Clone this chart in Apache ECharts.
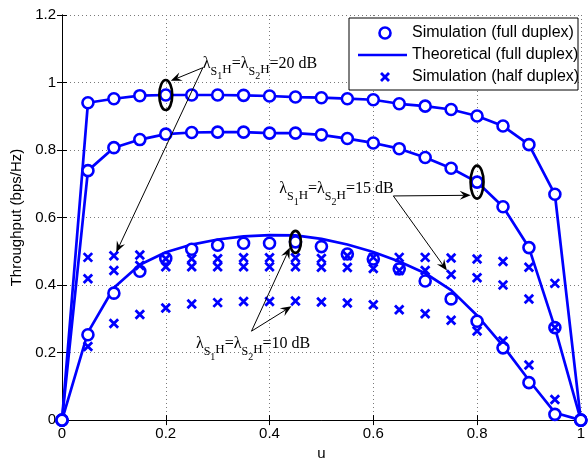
<!DOCTYPE html>
<html>
<head>
<meta charset="utf-8">
<script src="https://cdn.jsdelivr.net/npm/echarts@6.0.0/dist/echarts.min.js"></script>
<style>
  html, body { margin: 0; padding: 0; background: #fff; }
  #chart { width: 588px; height: 466px; }
</style>
</head>
<body>
<div id="chart"></div>
<script>
// power splitting factor u, sampled every 0.05
const mu = [0, 0.05, 0.1, 0.15, 0.2, 0.25, 0.3, 0.35, 0.4, 0.45, 0.5, 0.55, 0.6, 0.65, 0.7, 0.75, 0.8, 0.85, 0.9, 0.95, 1]
const muHalf = [0.05, 0.1, 0.15, 0.2, 0.25, 0.3, 0.35, 0.4, 0.45, 0.5, 0.55, 0.6, 0.65, 0.7, 0.75, 0.8, 0.85, 0.9, 0.95]

// full duplex, simulation (circles)
const simFull20 = [0, 0.940, 0.952, 0.961, 0.963, 0.963, 0.963, 0.962, 0.960, 0.957, 0.955, 0.952, 0.949, 0.937, 0.930, 0.920, 0.901, 0.871, 0.816, 0.669, 0]
const simFull15 = [0, 0.739, 0.807, 0.831, 0.847, 0.852, 0.853, 0.853, 0.850, 0.850, 0.845, 0.834, 0.821, 0.804, 0.778, 0.746, 0.705, 0.632, 0.511, 0.274, 0]
const simFull10 = [0, 0.253, 0.376, 0.441, 0.479, 0.506, 0.518, 0.524, 0.524, 0.528, 0.514, 0.492, 0.477, 0.448, 0.412, 0.359, 0.293, 0.214, 0.111, 0.017, 0]

// full duplex, theory (lines)
const theoryFull20 = [0, 0.940, 0.952, 0.961, 0.963, 0.963, 0.963, 0.962, 0.960, 0.957, 0.955, 0.952, 0.949, 0.937, 0.930, 0.920, 0.901, 0.871, 0.816, 0.669, 0]
const theoryFull15 = [0, 0.739, 0.807, 0.831, 0.847, 0.852, 0.853, 0.853, 0.850, 0.850, 0.845, 0.834, 0.821, 0.804, 0.778, 0.746, 0.705, 0.632, 0.511, 0.274, 0]
const theoryFull10 = [0, 0.260, 0.392, 0.460, 0.497, 0.520, 0.535, 0.544, 0.548, 0.547, 0.537, 0.520, 0.498, 0.470, 0.435, 0.385, 0.310, 0.220, 0.118, 0.022, 0]

// half duplex, simulation (crosses)
const simHalf20 = [0.482, 0.487, 0.489, 0.478, 0.478, 0.478, 0.481, 0.481, 0.481, 0.479, 0.487, 0.482, 0.482, 0.482, 0.480, 0.477, 0.470, 0.453, 0.405]
const simHalf15 = [0.419, 0.443, 0.458, 0.454, 0.454, 0.454, 0.454, 0.454, 0.454, 0.453, 0.452, 0.449, 0.443, 0.443, 0.431, 0.422, 0.400, 0.359, 0.274]
const simHalf10 = [0.218, 0.286, 0.313, 0.332, 0.344, 0.348, 0.351, 0.351, 0.353, 0.350, 0.347, 0.342, 0.327, 0.315, 0.296, 0.264, 0.234, 0.163, 0.061]

const legendLabels = ["Simulation (full duplex)", "Theoretical (full duplex)", "Simulation (half duplex)"]

// annotations, in data coordinates: label anchor, arrow tail, arrow tips, marked point
const annotations = [
  { snr: "20", label: [0.2715, 1.056], tail: [0.2715, 1.044], tips: [[0.2097, 1.005], [0.1046, 0.497]], mark: [0.2, 0.963] },
  { snr: "15", label: [0.4187, 0.684], tail: [0.6386, 0.664], tips: [[0.7878, 0.666], [0.7419, 0.443]], mark: [0.8, 0.705] },
  { snr: "10", label: [0.2581, 0.2255], tail: [0.3652, 0.2634], tips: [[0.4392, 0.511], [0.4423, 0.337]], mark: [0.45, 0.528] },
]

const blue = "#0000ff"
const sans = '"Liberation Sans", Arial, sans-serif'
const serif = '"Liberation Serif", "Times New Roman", serif'
const cross = "path://M0,0L10,10M10,0L0,10"

const pairs = (xs, ys) => ys.map((y, i) => [xs[i], y])

const theoryLine = (data) => ({
  type: "line",
  data: pairs(mu, data),
  symbol: "none",
  clip: false,
  silent: true,
  z: 2,
  lineStyle: { color: blue, width: 2.7 },
})
const circles = (data) => ({
  type: "scatter",
  data: pairs(mu, data),
  symbol: "circle",
  symbolSize: 11,
  clip: false,
  silent: true,
  z: 3,
  itemStyle: { color: "#fff", borderColor: blue, borderWidth: 2.6, opacity: 1 },
})
const crosses = (data) => ({
  type: "scatter",
  data: pairs(muHalf, data),
  symbol: cross,
  symbolSize: 8.5,
  clip: false,
  silent: true,
  z: 4,
  itemStyle: { color: blue, borderColor: blue, borderWidth: 2.8, opacity: 1 },
})

const chart = echarts.init(document.getElementById("chart"))

const tickLabel = { color: "#000", fontFamily: sans, fontSize: 15 }
const grid = { lineStyle: { color: "#7a7a7a", type: [1, 3], width: 1 } }
const black = { lineStyle: { color: "#000", width: 1 } }

chart.setOption({
  animation: false,
  grid: { left: 62, right: 3, top: 15, bottom: 38 },
  xAxis: [
    {
      type: "value", min: 0, max: 1, interval: 0.2,
      name: "u", nameLocation: "middle", nameGap: 15,
      nameTextStyle: { color: "#000", fontFamily: sans, fontSize: 15 },
      axisLine: black,
      axisTick: { inside: true, length: 5, lineStyle: { color: "#000" } },
      axisLabel: { ...tickLabel, margin: 6 },
      splitLine: { show: true, ...grid },
    },
    {
      type: "value", min: 0, max: 1, interval: 0.2, position: "top",
      axisLine: black,
      axisTick: { inside: true, length: 5, lineStyle: { color: "#000" } },
      axisLabel: { show: false },
      splitLine: { show: false },
    },
  ],
  yAxis: [
    {
      type: "value", min: 0, max: 1.2, interval: 0.2,
      name: "Throughput (bps/Hz)", nameLocation: "middle", nameGap: 32,
      nameTextStyle: { color: "#000", fontFamily: sans, fontSize: 15 },
      axisLine: { show: true, ...black },
      axisTick: { show: true, inside: true, length: 5, lineStyle: { color: "#000" } },
      axisLabel: { ...tickLabel, margin: 6 },
      splitLine: { show: true, ...grid },
    },
    {
      type: "value", min: 0, max: 1.2, interval: 0.2, position: "right",
      axisLine: { show: true, ...black },
      axisTick: { show: true, inside: true, length: 5, lineStyle: { color: "#000" } },
      axisLabel: { show: false },
      splitLine: { show: false },
    },
  ],
  series: [
    theoryLine(theoryFull20),
    theoryLine(theoryFull15),
    theoryLine(theoryFull10),
    circles(simFull20),
    circles(simFull15),
    circles(simFull10),
    crosses(simHalf20),
    crosses(simHalf15),
    crosses(simHalf10),
  ],
})

// ---- annotations and legend drawn on top
const toPx = (p) => chart.convertToPixel({ gridIndex: 0 }, p)
const ctx = document.createElement("canvas").getContext("2d")

function arrow(from, to) {
  const [x1, y1] = toPx(from)
  const [x2, y2] = toPx(to)
  const a = Math.atan2(y2 - y1, x2 - x1)
  const ux = Math.cos(a), uy = Math.sin(a)
  const bx = x2 - ux * 11, by = y2 - uy * 11
  const nx = x2 - ux * 7, ny = y2 - uy * 7
  return [
    { type: "line", shape: { x1, y1, x2: nx, y2: ny }, style: { stroke: "#000", lineWidth: 1 } },
    {
      type: "polygon",
      shape: { points: [[x2, y2], [bx - uy * 4.5, by + ux * 4.5], [nx, ny], [bx + uy * 4.5, by - ux * 4.5]] },
      style: { fill: "#000" },
    },
  ]
}

function snrLabel(anchor, snr) {
  const pieces = [
    ["λ", 16, 0], ["S", 12, 8], ["1", 10, 13], ["H", 13, 6], ["=", 16, 0],
    ["λ", 16, 0], ["S", 12, 8], ["2", 10, 13], ["H", 13, 6], ["=" + snr + " dB", 16, 0],
  ]
  const [x0, y0] = toPx(anchor)
  let x = x0
  return pieces.map(([text, size, dy]) => {
    const font = `${size}px ${serif}`
    ctx.font = font
    const el = { type: "text", x, y: y0 + dy, style: { text, font, fill: "#000", align: "left", verticalAlign: "middle" } }
    x += ctx.measureText(text).width
    return el
  })
}

const ellipseSize = [[6.5, 15], [6.5, 16.5], [5.5, 11]]

const elements = []
annotations.forEach((a, i) => {
  const [cx, cy] = toPx(a.mark)
  elements.push({
    type: "ellipse",
    shape: { cx, cy, rx: ellipseSize[i][0], ry: ellipseSize[i][1] },
    style: { fill: null, stroke: "#000", lineWidth: 2.6 },
  })
  a.tips.forEach((tip) => elements.push(...arrow(a.tail, tip)))
  elements.push(...snrLabel(a.label, a.snr))
})

// legend box
const legendX = 349, legendY = 18, rowGap = 22, iconX = 385
elements.push({
  type: "rect",
  shape: { x: legendX, y: legendY, width: 229, height: 72 },
  style: { fill: "#fff", stroke: "#000", lineWidth: 1 },
})
legendLabels.forEach((text, i) => {
  const y = legendY + 15 + i * rowGap
  if (i === 0) {
    elements.push({ type: "circle", shape: { cx: iconX, cy: y, r: 5.5 }, style: { fill: "#fff", stroke: blue, lineWidth: 2.6 } })
  } else if (i === 1) {
    elements.push({ type: "line", shape: { x1: legendX + 9, y1: y, x2: legendX + 58, y2: y }, style: { stroke: blue, lineWidth: 2.7 } })
  } else {
    elements.push({
      type: "polyline", shape: { points: [[iconX - 4, y - 4], [iconX + 4, y + 4]] }, style: { stroke: blue, lineWidth: 2.8 },
    })
    elements.push({
      type: "polyline", shape: { points: [[iconX + 4, y - 4], [iconX - 4, y + 4]] }, style: { stroke: blue, lineWidth: 2.8 },
    })
  }
  elements.push({
    type: "text", x: legendX + 63, y,
    style: { text, font: `16px ${sans}`, fill: "#000", align: "left", verticalAlign: "middle" },
  })
})

chart.setOption({ graphic: { elements: elements.map((e) => ({ ...e, silent: true, z: 100 })) } })
</script>
</body>
</html>
